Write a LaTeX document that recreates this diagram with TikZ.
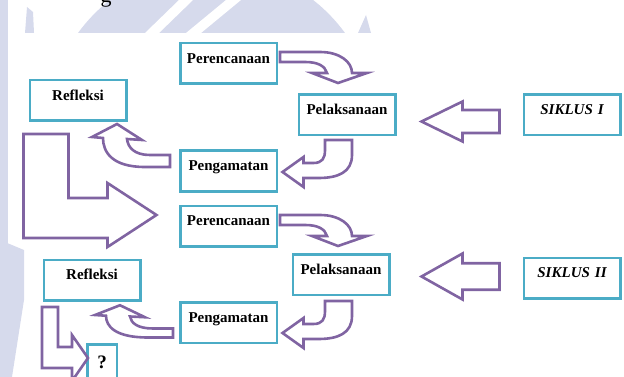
\documentclass[tikz,border=0pt]{standalone}
\usepackage{fontspec}
\setmainfont{Liberation Serif}
\usetikzlibrary{positioning}
\definecolor{boxteal}{RGB}{75,172,198}
\definecolor{arrowpurple}{RGB}{128,100,162}
\definecolor{wmark}{RGB}{214,218,236}

\begin{document}
\begin{tikzpicture}[x=1pt, y=-1pt,
  box/.style={draw=boxteal, line width=2.5pt, fill=white, inner sep=0pt, text width=96.5pt, text height=20pt, text depth=20.5pt, align=center, font=\bfseries\fontsize{15}{15}\selectfont},
  siklus/.style={box, font=\bfseries\itshape\fontsize{15}{15}\selectfont},
  blockarrow/.style={draw=arrowpurple, line width=2.6pt, fill=white, line join=miter},
  turndown/.pic={\draw[blockarrow] (0,-5) -- (40,-5) .. controls (60,-5) and (72,5) .. (72,16) -- (87,16) -- (58,26) -- (32,16) -- (47,16) .. controls (45,9) and (38,5) .. (25,5) -- (0,5) -- cycle;},
  turnleft/.pic={\draw[blockarrow] (-13.5,0) -- (13.5,0) -- (13.5,15) .. controls (13.5,32) and (0,38) .. (-20,38) -- (-35,38) -- (-35,47) -- (-56,32) -- (-35,17) -- (-35,23) -- (-25,23) .. controls (-16,23) and (-13.5,18) .. (-13.5,10) -- cycle;},
  turnup/.pic={\draw[blockarrow] (0,-6) -- (0,6) -- (-25,6) .. controls (-58,6) and (-67,-9) .. (-67,-23) -- (-78,-24) -- (-53,-37) -- (-28,-21) -- (-43,-22) .. controls (-42,-13) and (-35,-6) .. (-20,-6) -- cycle;},
  pushleft/.pic={\draw[blockarrow] (0,-11.5) -- (-37,-11.5) -- (-37,-20) -- (-78,0) -- (-37,20) -- (-37,11.5) -- (0,11.5) -- cycle;}]
\clip (0,0) rectangle (624,377);
% watermark of the page behind the scan
\fill[wmark] (0,0) rectangle (8,377);
\fill[wmark] (0,240) -- (24,250) -- (24,300) -- (12,377) -- (0,377) -- cycle;
\fill[wmark] (25,33) -- (27,7) -- (33,12) -- (34,33) -- cycle;
\begin{scope}
  \clip (0,0) rectangle (624,33);
  \fill[wmark] (211.5,130) circle[radius=165];
  \fill[white] (145,33) -- (159,33) -- (193,0) -- (179,0) -- cycle;
  \fill[white] (186,33) -- (201,33) -- (241,0) -- (226,0) -- cycle;
\end{scope}
\fill[wmark] (358,33) -- (371,33) -- (366,15) -- cycle;
\node[anchor=base, font=\fontsize{22}{22}\selectfont] (judul) at (106,3) {g};

\node[box] (per1) at (228.5,63.5) {Perencanaan};
\node[box] (ref1) at (78,100.5) {Refleksi};
\node[box] (pel1) at (347,115) {Pelaksanaan};
\node[siklus] (sik1) at (572,115) {SIKLUS I};
\node[box] (peng1) at (228.5,171) {Pengamatan};
\node[box] (per2) at (228.5,226) {Perencanaan};
\node[box] (pel2) at (341,274.5) {Pelaksanaan};
\node[siklus] (sik2) at (572,278) {SIKLUS II};
\node[box] (ref2) at (92,280) {Refleksi};
\node[box] (peng2) at (228.5,322.5) {Pengamatan};
\node[box, text width=29.5pt, text height=24pt, text depth=16.5pt, font=\bfseries\fontsize{19}{19}\selectfont] (tanya) at (102,364.5) {?};

% siklus 1
\pic at ([xshift=2pt,yshift=6.5pt]per1.east) {turndown};
\pic at ([xshift=-8.5pt,yshift=-3.5pt]pel1.south) {turnleft};
\pic at ([xshift=-9pt,yshift=10pt]peng1.west) {turnup};
\pic at ([xshift=-23pt,yshift=-6.5pt]sik1.west) {pushleft};
\draw[blockarrow, shift={(ref1.south west)}] (-5,12) -- (40,12) -- (40,76) -- (79,76) -- (79,61) -- (128,93) -- (79,125) -- (79,116) -- (-5,116) -- cycle;

% siklus 2
\pic at ([xshift=2pt,yshift=6pt]per2.east) {turndown};
\pic at ([xshift=-2.5pt,yshift=-5pt]pel2.south) {turnleft};
\pic[yscale=0.75] at ([xshift=-6pt,yshift=-10.5pt]peng2.west) {turnup};
\pic[yscale=1.15] at ([xshift=-23pt,yshift=1.5pt]sik2.west) {pushleft};
\draw[blockarrow, shift={(ref2.south west)}] (-0.5,5.5) -- (15.5,5.5) -- (15.5,45.5) -- (29.5,45.5) -- (29.5,33.5) -- (45.5,56.5) -- (29.5,79.5) -- (29.5,66.5) -- (-0.5,66.5) -- cycle;
\end{tikzpicture}
\end{document}
